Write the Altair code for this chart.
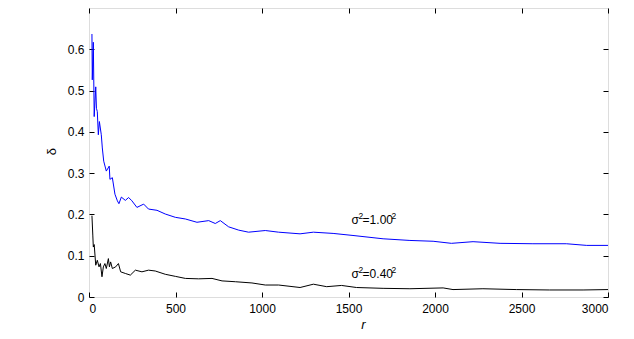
import altair as alt
import pandas as pd

blue_r = [17, 19, 25, 30, 39, 43, 48, 54, 60, 71, 77, 85, 100, 117, 121, 135, 150, 164, 173, 187,
          210, 229, 248, 277, 316, 344, 393, 441, 499, 557, 624, 692, 730, 759, 807, 865, 922, 1019,
          1096, 1220, 1297, 1411, 1526, 1700, 1855, 1989, 2095, 2220, 2376, 2566, 2759, 2877, 3000]
blue_d = [0.637, 0.526, 0.617, 0.437, 0.509, 0.457, 0.449, 0.393, 0.425, 0.393, 0.361, 0.329, 0.305,
          0.317, 0.285, 0.289, 0.249, 0.233, 0.226, 0.242, 0.234, 0.241, 0.233, 0.217, 0.225, 0.213,
          0.210, 0.201, 0.193, 0.189, 0.181, 0.185, 0.178, 0.185, 0.170, 0.162, 0.157, 0.161, 0.157,
          0.153, 0.157, 0.154, 0.149, 0.141, 0.137, 0.135, 0.130, 0.134, 0.130, 0.129, 0.129, 0.125, 0.125]

black_r = [17, 22, 25, 30, 39, 48, 58, 66, 75, 83, 92, 100, 112, 118, 125, 135, 154, 170, 183, 210,
           239, 268, 306, 344, 383, 441, 499, 557, 634, 711, 769, 846, 942, 1019, 1096, 1220, 1297,
           1374, 1460, 1546, 1700, 1855, 2047, 2104, 2277, 2470, 2663, 2856, 3000]
black_d = [0.197, 0.150, 0.121, 0.127, 0.077, 0.089, 0.073, 0.081, 0.049, 0.073, 0.081, 0.069, 0.093,
           0.073, 0.085, 0.069, 0.073, 0.081, 0.061, 0.057, 0.053, 0.065, 0.061, 0.065, 0.063, 0.055,
           0.050, 0.045, 0.044, 0.045, 0.039, 0.037, 0.034, 0.029, 0.029, 0.023, 0.031, 0.025, 0.028,
           0.023, 0.021, 0.020, 0.022, 0.018, 0.020, 0.018, 0.017, 0.017, 0.018]

# annotation pieces: "σ" + sup "2" + "=1.00" + sup "2"
label_sym = ["σ", "σ"]
label_val = ["=1.00", "=0.40"]
label_sup = ["2", "2"]
label_r = [1518, 1518]
label_d = [0.178, 0.045]

x_ticks = [0, 500, 1000, 1500, 2000, 2500, 3000]
y_ticks = [0, 0.1, 0.2, 0.3, 0.4, 0.5, 0.6]

W, H = 519, 289
FONT = "Liberation Sans"

blue = pd.DataFrame({"r": blue_r, "d": blue_d})
black = pd.DataFrame({"r": black_r, "d": black_d})
labels = pd.DataFrame({"sym": label_sym, "val": label_val, "sup": label_sup, "r": label_r, "d": label_d})

xs = alt.Scale(domain=[0, 3000], nice=False, zero=False)
ys = alt.Scale(domain=[0, 0.7], nice=False)

main_x = alt.Axis(orient="bottom", values=x_ticks, format="d", ticks=False, tickSize=0, domain=False,
                  grid=False, labelPadding=6, labelFontSize=12, labelFont=FONT, labelColor="black",
                  title="r", titleFont=FONT, titleFontSize=13, titleFontStyle="italic",
                  titleFontWeight="normal", titleX=274, titleY=31, titleBaseline="alphabetic",
                  titleAlign="center", titleColor="black")
main_y = alt.Axis(orient="left", values=y_ticks, format="~g", ticks=False, tickSize=0, domain=False,
                  grid=False, labelPadding=5, labelFontSize=12, labelFont=FONT, labelColor="black",
                  title="δ", titleFont=FONT, titleFontSize=13, titleFontWeight="normal",
                  titleX=-31, titleY=143, titleAngle=270, titleBaseline="bottom",
                  titleAlign="center", titleColor="black")


def tick_axis(orient, off, vals):
    return alt.Axis(orient=orient, offset=off, values=vals, labels=False, domain=False, grid=False,
                    ticks=True, tickSize=5, tickColor="black", tickWidth=1, title=None)


blue_line = alt.Chart(blue).mark_line(color="#0000ff", strokeWidth=1).encode(
    x=alt.X("r:Q", scale=xs, axis=main_x),
    y=alt.Y("d:Q", scale=ys, axis=main_y),
)
black_line = alt.Chart(black).mark_line(color="black", strokeWidth=1).encode(
    x=alt.X("r:Q", scale=xs, axis=None),
    y=alt.Y("d:Q", scale=ys, axis=None),
)
ticks_a = alt.Chart(black).mark_line(strokeOpacity=0).encode(
    x=alt.X("r:Q", scale=xs, axis=tick_axis("top", -H, x_ticks)),
    y=alt.Y("d:Q", scale=ys, axis=tick_axis("right", -W, y_ticks)),
)
ticks_b = alt.Chart(black).mark_line(strokeOpacity=0).encode(
    x=alt.X("r:Q", scale=xs, axis=tick_axis("bottom", -H, x_ticks)),
    y=alt.Y("d:Q", scale=ys, axis=tick_axis("left", -W, y_ticks)),
)


def text_layer(field, size, dx, dy):
    return alt.Chart(labels).mark_text(align="left", baseline="alphabetic", font=FONT, fontSize=size,
                                       color="black", dx=dx, dy=dy).encode(
        x=alt.X("r:Q", scale=xs, axis=None),
        y=alt.Y("d:Q", scale=ys, axis=None),
        text=f"{field}:N",
    )


t_sym = text_layer("sym", 12, 0, 0)
t_sup1 = text_layer("sup", 8.5, 6.8, -5)
t_val = text_layer("val", 12, 11, 0)
t_sup2 = text_layer("sup", 8.5, 40, -5)

chart = alt.layer(blue_line, black_line, ticks_a, ticks_b, t_sym, t_sup1, t_val, t_sup2).resolve_axis(
    x="independent", y="independent"
).properties(
    width=W, height=H,
    autosize=alt.AutoSizeParams(type="none"),
    padding={"left": 81, "top": 0, "right": 18, "bottom": 40},
).configure_view(stroke="black", strokeWidth=1).configure(background="white")

chart.save("out.html", embed_options={"renderer": "svg", "actions": False})
